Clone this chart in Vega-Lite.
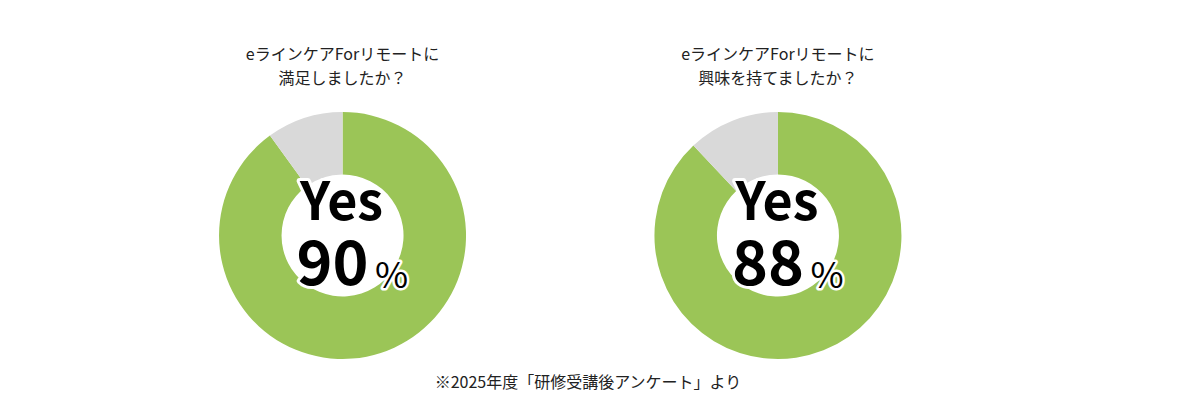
{
  "$schema": "https://vega.github.io/schema/vega-lite/v6.json",
  "width": 1200,
  "height": 400,
  "autosize": {"type": "fit", "contains": "padding"},
  "padding": {"left": 0, "right": 0, "top": 71, "bottom": 0},
  "background": "white",
  "datasets": {
    "pie": [
      {"chart": "left", "answer": "はい", "value": 90},
      {"chart": "left", "answer": "いいえ", "value": 10},
      {"chart": "right", "answer": "はい", "value": 88},
      {"chart": "right", "answer": "いいえ", "value": 12}
    ],
    "labels": [
      {"chart": "left", "title": "eラインケアForリモートに\n満足しましたか？", "yes": 90},
      {"chart": "right", "title": "eラインケアForリモートに\n興味を持てましたか？", "yes": 88}
    ],
    "note": [
      {"text": "※2025年度「研修受講後アンケート」より"}
    ]
  },
  "encoding": {
    "x": {
      "field": "chart",
      "type": "nominal",
      "scale": {"type": "point", "domain": ["left", "right"], "padding": 0.878, "align": 0.448},
      "axis": null
    }
  },
  "layer": [
    {
      "data": {"name": "pie"},
      "transform": [
        {
          "stack": "value",
          "groupby": ["chart"],
          "sort": [{"field": "value", "order": "descending"}],
          "as": ["v0", "v1"]
        }
      ],
      "mark": {"type": "arc", "radius": 123.5, "radius2": 61},
      "encoding": {
        "theta": {"field": "v0", "type": "quantitative", "stack": null, "scale": {"domain": [0, 100]}},
        "theta2": {"field": "v1"},
        "color": {
          "field": "answer",
          "type": "nominal",
          "scale": {"domain": ["はい", "いいえ"], "range": ["#9bc557", "#d9d9d9"]},
          "legend": null
        }
      }
    },
    {
      "data": {"name": "labels"},
      "mark": {
        "type": "text",
        "font": "Noto Sans CJK JP",
        "fontSize": 16,
        "color": "#222222",
        "align": "center",
        "baseline": "alphabetic",
        "lineBreak": "\n",
        "lineHeight": 24,
        "dy": -175.5
      },
      "encoding": {"text": {"field": "title"}}
    },
    {
      "data": {"name": "labels"},
      "mark": {
        "type": "text",
        "font": "Noto Sans CJK JP",
        "fontSize": 52,
        "fontWeight": "bold",
        "color": "white",
        "stroke": "white",
        "strokeWidth": 6,
        "strokeJoin": "round",
        "align": "center",
        "baseline": "alphabetic",
        "dx": -1,
        "dy": -15.5
      },
      "encoding": {"text": {"value": "Yes"}}
    },
    {
      "data": {"name": "labels"},
      "mark": {
        "type": "text",
        "font": "Noto Sans CJK JP",
        "fontSize": 52,
        "fontWeight": "bold",
        "color": "black",
        "align": "center",
        "baseline": "alphabetic",
        "dx": -1,
        "dy": -15.5
      },
      "encoding": {"text": {"value": "Yes"}}
    },
    {
      "data": {"name": "labels"},
      "mark": {
        "type": "text",
        "font": "Noto Sans CJK JP",
        "fontSize": 61,
        "fontWeight": "bold",
        "color": "white",
        "stroke": "white",
        "strokeWidth": 6,
        "strokeJoin": "round",
        "align": "center",
        "baseline": "alphabetic",
        "dx": -10,
        "dy": 49
      },
      "encoding": {"text": {"field": "yes", "type": "quantitative"}}
    },
    {
      "data": {"name": "labels"},
      "mark": {
        "type": "text",
        "font": "Noto Sans CJK JP",
        "fontSize": 61,
        "fontWeight": "bold",
        "color": "black",
        "align": "center",
        "baseline": "alphabetic",
        "dx": -10,
        "dy": 49
      },
      "encoding": {"text": {"field": "yes", "type": "quantitative"}}
    },
    {
      "data": {"name": "labels"},
      "mark": {
        "type": "text",
        "font": "Noto Sans CJK JP",
        "fontSize": 36,
        "color": "white",
        "stroke": "white",
        "strokeWidth": 5,
        "strokeJoin": "round",
        "align": "left",
        "baseline": "alphabetic",
        "dx": 32.5,
        "dy": 52.5
      },
      "encoding": {"text": {"value": "%"}}
    },
    {
      "data": {"name": "labels"},
      "mark": {
        "type": "text",
        "font": "Noto Sans CJK JP",
        "fontSize": 36,
        "color": "black",
        "align": "left",
        "baseline": "alphabetic",
        "dx": 32.5,
        "dy": 52.5
      },
      "encoding": {"text": {"value": "%"}}
    },
    {
      "data": {"name": "note"},
      "mark": {
        "type": "text",
        "font": "Noto Sans CJK JP",
        "fontSize": 16,
        "color": "#222222",
        "align": "center",
        "baseline": "alphabetic",
        "dx": -12,
        "dy": 152.5
      },
      "encoding": {"x": {"value": {"expr": "width / 2"}}, "text": {"field": "text"}}
    }
  ],
  "config": {"view": {"stroke": null}}
}
